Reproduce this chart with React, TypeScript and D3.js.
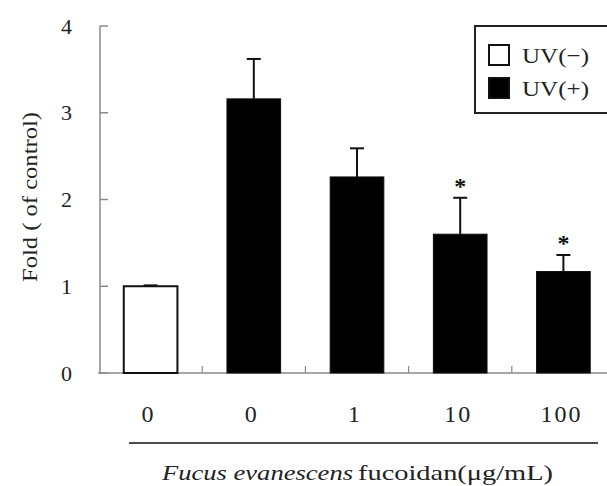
import React from "react";
import * as d3 from "d3";

const categories = ["0", "0", "1", "10", "100"];
const uvExposed = [false, true, true, true, true];
const meanValues = [1.0, 3.16, 2.26, 1.6, 1.17];
const errorValues = [0.01, 0.46, 0.33, 0.42, 0.19];
const significant = [false, false, false, true, true];
const yTicks = [0, 1, 2, 3, 4];
const legendLabels = ["UV(−)", "UV(+)"];

const W = 607;
const H = 486;
const FONT = "'Liberation Serif', 'DejaVu Serif', serif";

export default function App() {
  const idx = categories.map((_, i) => String(i));
  const x = d3.scaleBand<string>().domain(idx).range([99, 615]).paddingInner(0.48).paddingOuter(0.24);
  const y = d3.scaleLinear().domain([0, 4]).range([373, 26]);
  const bw = x.bandwidth();
  const step = x.step();
  const axisColor = "#8a8a8a";

  return (
    <svg width={W} height={H} style={{ position: "absolute", left: 0, top: 0, background: "#fff" }}>
      <rect x={0} y={0} width={W} height={H} fill="#fff" />
      {/* Y axis */}
      <line x1={100} x2={100} y1={y(4)} y2={y(0)} stroke={axisColor} strokeWidth={1.5} />
      {yTicks.map((t) => (
        <g key={t}>
          <line x1={100} x2={108} y1={y(t)} y2={y(t)} stroke={axisColor} strokeWidth={1.5} />
          <text x={72} y={y(t)} dy="0.35em" textAnchor="end" fontFamily={FONT} fontSize={22} fill="#222">
            {t}
          </text>
        </g>
      ))}
      {/* baseline */}
      <line x1={98} x2={W} y1={y(0)} y2={y(0)} stroke={axisColor} strokeWidth={1.5} />
      {idx.slice(1).map((k) => {
        const bx = (x(k) as number) - (step - bw) / 2;
        return <line key={k} x1={bx} x2={bx} y1={y(0)} y2={y(0) - 7} stroke={axisColor} strokeWidth={1.2} />;
      })}
      {/* bars */}
      {idx.map((k, i) => {
        const bx = x(k) as number;
        const cx = bx + bw / 2;
        const top = y(meanValues[i]);
        const eTop = y(meanValues[i] + errorValues[i]);
        return (
          <g key={k}>
            <line x1={cx} x2={cx} y1={top} y2={eTop} stroke="#111" strokeWidth={2} />
            <line x1={cx - 7} x2={cx + 7} y1={eTop} y2={eTop} stroke="#111" strokeWidth={2} />
            <rect
              x={bx}
              y={top}
              width={bw}
              height={y(0) - top}
              fill={uvExposed[i] ? "#000" : "#fff"}
              stroke="#111"
              strokeWidth={uvExposed[i] ? 1 : 2}
            />
            {significant[i] && (
              <text x={cx} y={eTop - 4} textAnchor="middle" fontFamily={FONT} fontSize={24} fontWeight="bold" fill="#111">
                *
              </text>
            )}
            <text
              x={cx - 2}
              y={414}
              dy="0.35em"
              textAnchor="middle"
              fontFamily={FONT}
              fontSize={24}
              letterSpacing={2}
              fill="#222"
            >
              {categories[i]}
            </text>
          </g>
        );
      })}
      {/* underline */}
      <line x1={129} x2={598} y1={443} y2={443} stroke="#111" strokeWidth={1.5} />
      {/* x title */}
      <text x={162} y={472} dy="0.35em" fontFamily={FONT} fontSize={22} fill="#222">
        <tspan fontStyle="italic" textLength={191} lengthAdjust="spacingAndGlyphs">
          Fucus evanescens
        </tspan>
        <tspan x={358} textLength={195} lengthAdjust="spacingAndGlyphs">
          fucoidan(μg/mL)
        </tspan>
      </text>
      {/* y title */}
      <text
        transform="translate(29,197) rotate(-90)"
        textAnchor="middle"
        dy="0.35em"
        fontFamily={FONT}
        fontSize={22}
        textLength={170}
        lengthAdjust="spacingAndGlyphs"
        fill="#222"
      >
        Fold ( of control)
      </text>
      {/* legend */}
      <rect x={475} y={26} width={140} height={87} fill="#fff" stroke="#222" strokeWidth={2} />
      {legendLabels.map((l, i) => (
        <g key={l}>
          <rect
            x={489}
            y={45 + i * 33}
            width={20}
            height={20}
            fill={i === 0 ? "#fff" : "#000"}
            stroke="#111"
            strokeWidth={2}
          />
          <text
            x={522}
            y={55 + i * 33}
            dy="0.35em"
            fontFamily={FONT}
            fontSize={22}
            textLength={67}
            lengthAdjust="spacingAndGlyphs"
            fill="#222"
          >
            {l}
          </text>
        </g>
      ))}
    </svg>
  );
}
